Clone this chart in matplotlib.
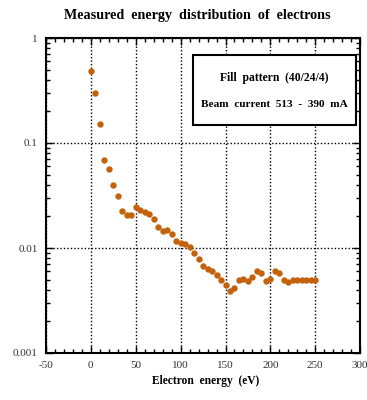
import matplotlib
matplotlib.use("Agg")
import matplotlib.pyplot as plt
from matplotlib.ticker import MultipleLocator, LogLocator, NullFormatter, FixedLocator, FixedFormatter
from matplotlib.patches import Rectangle

energy = [0, 5, 10, 15, 20, 25, 30, 35, 40, 45, 50, 55, 60, 65, 70, 75, 80, 85, 90, 95,
          100, 105, 110, 115, 120, 125, 130, 135, 140, 145, 150, 155, 160, 165, 170, 175,
          180, 185, 190, 195, 200, 205, 210, 215, 220, 225, 230, 235, 240, 245, 250]
distribution = [0.49, 0.30, 0.152, 0.069, 0.056, 0.040, 0.031, 0.0225, 0.0205, 0.0208,
                0.0247, 0.023, 0.0218, 0.021, 0.0188, 0.0158, 0.0146, 0.015, 0.0137, 0.0117,
                0.0111, 0.011, 0.0102, 0.009, 0.0079, 0.0068, 0.0063, 0.006, 0.0055, 0.005,
                0.0044, 0.0039, 0.0042, 0.005, 0.0051, 0.0049, 0.0053, 0.0061, 0.0058, 0.0049,
                0.0051, 0.0061, 0.0058, 0.005, 0.0047, 0.005, 0.005, 0.005, 0.005, 0.005, 0.005]
x_ticks = [-50, 0, 50, 100, 150, 200, 250, 300]
y_ticks = [0.001, 0.01, 0.1, 1]
y_tick_labels = ["0.001", "0.01", "0.1", "1"]

serif = ["Liberation Serif", "DejaVu Serif"]
plt.rcParams['font.family'] = serif
plt.rcParams['axes.unicode_minus'] = False

fig = plt.figure(figsize=(3.67, 4.0), dpi=100)
ax = fig.add_axes([0.1253, 0.1175, 0.856, 0.7875])

ax.plot(energy, distribution, 'o', color='#c4620c', markersize=4.6, markeredgewidth=0, zorder=3)

ax.set_yscale('log')
ax.set_xlim(-50, 300)
ax.set_ylim(0.001, 1)
ax.xaxis.set_major_locator(FixedLocator(x_ticks))
ax.xaxis.set_minor_locator(MultipleLocator(10))
ax.yaxis.set_major_locator(FixedLocator(y_ticks))
ax.yaxis.set_major_formatter(FixedFormatter(y_tick_labels))
ax.yaxis.set_minor_locator(LogLocator(base=10, subs=range(2, 10)))
ax.yaxis.set_minor_formatter(NullFormatter())

ax.tick_params(which='both', direction='in', top=True, right=True, labelsize=8, colors='black')
ax.tick_params(which='major', length=5, width=1)
ax.tick_params(which='minor', length=3, width=1)
ax.tick_params(axis='x', pad=6)
ax.tick_params(axis='y', pad=6)
for lbl in ax.get_xticklabels() + ax.get_yticklabels():
    lbl.set_color('#333333')

ax.grid(True, which='major', linestyle=(0, (1, 1.5)), color='black', linewidth=1.0)
for s in ax.spines.values():
    s.set_linewidth(1.5)

ax.add_patch(Rectangle((0.468, 0.724), 0.519, 0.222, transform=ax.transAxes,
                       facecolor='white', edgecolor='black', linewidth=1.5, zorder=4))
ax.text(0.728, 0.874, "Fill  pattern  (40/24/4)", transform=ax.transAxes, ha='center', va='center',
        fontsize=8.4, fontweight='bold', zorder=5)
ax.text(0.728, 0.789, "Beam  current  513  -  390  mA", transform=ax.transAxes, ha='center', va='center',
        fontsize=8.1, fontweight='bold', zorder=5)

fig.text(0.537, 1 - 15 / 400, "Measured  energy  distribution  of  electrons", ha='center', va='center',
         fontsize=10.2, fontweight='bold')
fig.text(206 / 367, 1 - 381 / 400, "Electron  energy  (eV)", ha='center', va='center',
         fontsize=8.3, fontweight='bold')

fig.savefig("out.png", dpi=100)
